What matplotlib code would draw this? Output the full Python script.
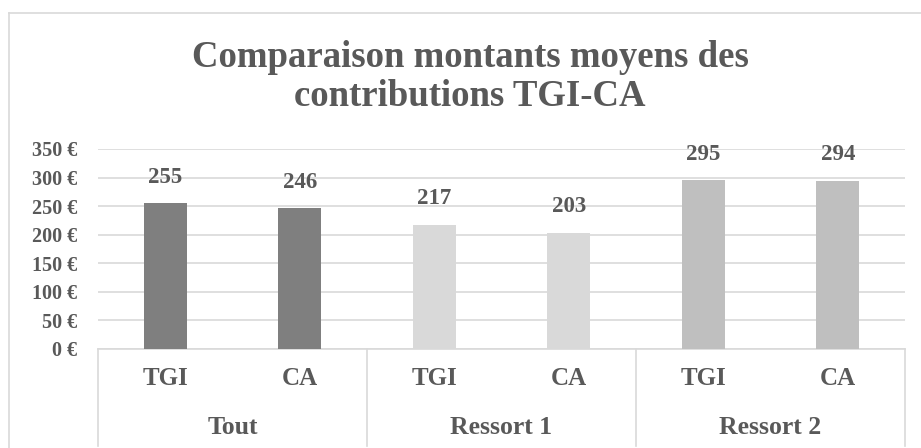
import matplotlib
matplotlib.use("Agg")
import matplotlib.pyplot as plt
from matplotlib.transforms import blended_transform_factory
from matplotlib.lines import Line2D

groups = ["Tout", "Ressort 1", "Ressort 2"]
subcats = ["TGI", "CA", "TGI", "CA", "TGI", "CA"]
values = [255, 246, 217, 203, 295, 294]
bar_colors = ["#7f7f7f", "#7f7f7f", "#d9d9d9", "#d9d9d9", "#bfbfbf", "#bfbfbf"]
yticks = [0, 50, 100, 150, 200, 250, 300, 350]
ytick_labels = ["0 €", "50 €", "100 €", "150 €", "200 €", "250 €", "300 €", "350 €"]
title = "Comparaison montants moyens des\ncontributions TGI-CA"

FONT = "Liberation Serif"
TXT = "#595959"
GRID = "#d9d9d9"

W, H = 921, 448
fig = plt.figure(figsize=(W / 100, H / 100), dpi=100)
fig.patch.set_facecolor("white")

# chart border (cropped on right/bottom)
fig.add_artist(Line2D([9 / W, 9 / W], [0, 1 - 13 / H], transform=fig.transFigure,
                      color=GRID, lw=1.2))
fig.add_artist(Line2D([9 / W, 1], [1 - 13 / H, 1 - 13 / H], transform=fig.transFigure,
                      color=GRID, lw=1.2))

left, right, top_px, bot_px = 98, 905, 149, 349
ax = fig.add_axes([left / W, 1 - bot_px / H, (right - left) / W, (bot_px - top_px) / H])
x = list(range(len(values)))
ax.bar(x, values, width=0.32, color=bar_colors, zorder=3)
ax.set_xlim(-0.5, len(values) - 0.5)
ax.set_ylim(0, 350)
ax.set_yticks(yticks)
ax.set_yticklabels(ytick_labels, fontfamily=FONT, fontweight="bold", fontsize=14.5, color=TXT)
ax.tick_params(axis="y", length=0, pad=15)
ax.set_xticks([])
for s in ["top", "right", "left"]:
    ax.spines[s].set_visible(False)
ax.spines["bottom"].set_color(GRID)
ax.spines["bottom"].set_linewidth(1.2)
ax.grid(axis="y", color=GRID, lw=1.2, zorder=0)
ax.set_axisbelow(True)

for xi, v in zip(x, values):
    ax.annotate(f"{v}", (xi, v), xytext=(0, 26), textcoords="offset pixels",
                ha="center", va="center", fontfamily=FONT, fontweight="bold",
                fontsize=16.5, color=TXT)

trans = blended_transform_factory(ax.transData, ax.transAxes)
ax_h = bot_px - top_px
for xi, lab in zip(x, subcats):
    ax.text(xi, -(378 - bot_px) / ax_h, lab, transform=trans, ha="center", va="center",
            fontfamily=FONT, fontweight="bold", fontsize=18, color=TXT)
for gi, g in enumerate(groups):
    ax.text(gi * 2 + 0.5, -(427 - bot_px) / ax_h, g, transform=trans, ha="center",
            va="center", fontfamily=FONT, fontweight="bold", fontsize=18.5, color=TXT)
for b in [-0.5, 1.5, 3.5, 5.5]:
    ax.plot([b, b], [0, -(446 - bot_px) / ax_h], transform=trans, color=GRID, lw=1.2,
            clip_on=False)

fig.text(470 / W, 1 - 77 / H, title, ha="center", va="center", fontfamily=FONT,
         fontweight="bold", fontsize=26.5, color=TXT, linespacing=1.18)

fig.savefig("out.png", dpi=100, facecolor="white")
